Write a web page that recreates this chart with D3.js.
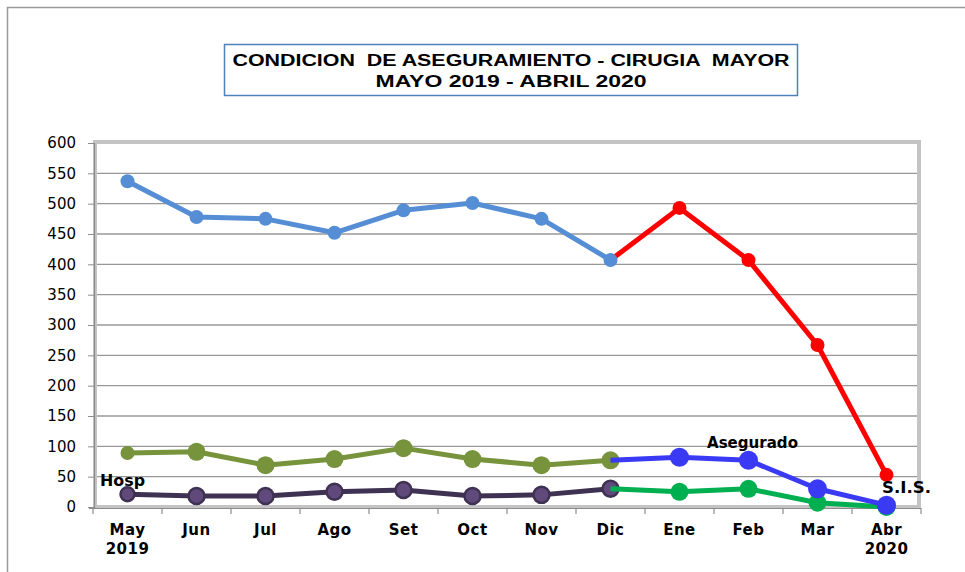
<!DOCTYPE html>
<html>
<head>
<meta charset="utf-8">
<script src="https://cdn.jsdelivr.net/npm/d3@7"></script>
<style>
  html, body { margin: 0; padding: 0; background: #fff; }
  svg { display: block; }
</style>
</head>
<body>
<svg id="chart" width="965" height="572"></svg>
<script>
// Month categories (two-line labels: month / year)
const months = ["May", "Jun", "Jul", "Ago", "Set", "Oct", "Nov", "Dic", "Ene", "Feb", "Mar", "Abr"];
const monthYears = ["2019", "", "", "", "", "", "", "", "", "", "", "2020"];
const yTicks = [0, 50, 100, 150, 200, 250, 300, 350, 400, 450, 500, 550, 600];

// S.I.S. patients: May–Dic and Dic–Abr
const sisFirst  = [537, 478, 475, 452, 489, 501, 475, 407, null, null, null, null];
const sisSecond = [null, null, null, null, null, null, null, 407, 493, 407, 267, 53];
// Insured (Asegurado)
const asegFirst  = [89, 91, 69, 79, 97, 79, 69, 77, null, null, null, null];
const asegSecond = [null, null, null, null, null, null, null, 77, 82, 77, 30, 3];
// Hospital (Hosp)
const hospFirst  = [21, 18, 18, 25, 28, 18, 20, 30, null, null, null, null];
const hospSecond = [null, null, null, null, null, null, null, 30, 25, 30, 7, 0];

const titleLines = ["CONDICION  DE ASEGURAMIENTO - CIRUGIA  MAYOR", "MAYO 2019 - ABRIL 2020"];

const svg = d3.select("#chart");

// outer chart frame
svg.append("rect")
  .attr("x", 7.5).attr("y", 7.5).attr("width", 1000).attr("height", 600)
  .attr("fill", "none").attr("stroke", "#9a9a9a").attr("stroke-width", 1.5);

const plot = { left: 95, right: 919, top: 143, bottom: 507 };

const x = d3.scaleBand().domain(months).range([93, 921]);
const y = d3.scaleLinear().domain([0, 600]).range([plot.bottom, plot.top]);
const cx = m => x(m) + x.bandwidth() / 2;

// grid lines
svg.append("g")
  .selectAll("line")
  .data(yTicks.filter(v => v > 0 && v < 600))
  .join("line")
  .attr("x1", plot.left).attr("x2", plot.right)
  .attr("y1", d => y(d)).attr("y2", d => y(d))
  .attr("stroke", "#989898").attr("stroke-width", 1.3);

// plot-area border
svg.append("rect")
  .attr("x", plot.left).attr("y", plot.top - 1)
  .attr("width", plot.right - plot.left).attr("height", plot.bottom - plot.top + 1)
  .attr("fill", "none").attr("stroke", "#c4c4c4").attr("stroke-width", 4);

// y axis
const yAxis = d3.axisLeft(y).tickValues(yTicks).tickSize(6).tickPadding(12);
const gy = svg.append("g").attr("transform", `translate(${plot.left - 1},0)`).call(yAxis);
gy.select(".domain").attr("stroke", "#8c8c8c").attr("stroke-width", 1.2);
gy.selectAll(".tick line").attr("stroke", "#8c8c8c");
gy.selectAll("text")
  .attr("font-family", "DejaVu Sans, Verdana, sans-serif")
  .attr("font-size", 15).attr("fill", "#000");

// x axis: tick marks at category boundaries
const bounds = months.map(m => x(m)).concat([x.range()[1]]);
svg.append("g").selectAll("line").data(bounds).join("line")
  .attr("x1", d => d).attr("x2", d => d)
  .attr("y1", plot.bottom + 1).attr("y2", plot.bottom + 7)
  .attr("stroke", "#8c8c8c").attr("stroke-width", 1.2);
svg.append("line")
  .attr("x1", plot.left - 6).attr("x2", plot.right + 2)
  .attr("y1", plot.bottom + 1.5).attr("y2", plot.bottom + 1.5)
  .attr("stroke", "#8c8c8c").attr("stroke-width", 1.2);

const xl = svg.append("g").selectAll("text").data(months).join("text")
  .attr("x", d => cx(d)).attr("y", 535)
  .attr("text-anchor", "middle")
  .attr("font-family", "DejaVu Sans, Verdana, sans-serif")
  .attr("font-weight", "bold").attr("font-size", 15).attr("fill", "#000")
  .attr("letter-spacing", 0.5);
xl.append("tspan").attr("x", d => cx(d)).text(d => d);
xl.append("tspan").attr("x", d => cx(d)).attr("dy", 19)
  .text((d, i) => monthYears[i]);

// series drawing
function drawSeries(values, opt) {
  const pts = values.map((v, i) => ({ m: months[i], v })).filter(p => p.v !== null);
  const line = d3.line().x(p => cx(p.m)).y(p => y(p.v));
  const g = svg.append("g");
  g.append("path").datum(pts).attr("d", line)
    .attr("fill", "none").attr("stroke", opt.color)
    .attr("stroke-width", opt.width).attr("stroke-linejoin", "round");
  const markers = pts.filter((p, i) => !(opt.skipFirst && i === 0));
  g.selectAll("circle").data(markers).join("circle")
    .attr("cx", p => cx(p.m)).attr("cy", p => y(p.v))
    .attr("r", (p, i) => (opt.firstR && i === 0) ? opt.firstR : opt.r)
    .attr("fill", opt.fill || opt.color)
    .attr("stroke", opt.stroke || "none")
    .attr("stroke-width", opt.strokeWidth || 0);
}

drawSeries(sisSecond, { color: "#ff0000", width: 5, r: 7, skipFirst: true });
drawSeries(sisFirst,  { color: "#558ed5", width: 5, r: 7 });
drawSeries(hospFirst, { color: "#3f3151", width: 5, r: 8, firstR: 7, fill: "#604a7b",
                        stroke: "#3f3151", strokeWidth: 2.5 });
drawSeries(hospSecond, { color: "#00b050", width: 5, r: 9, skipFirst: true });
drawSeries(asegFirst, { color: "#77933c", width: 5, r: 9, firstR: 7 });
drawSeries(asegSecond, { color: "#3a3af5", width: 5, r: 9.5, skipFirst: true });

// series labels
[
  { text: "Hosp", x: 100, y: 486, len: 45 },
  { text: "Asegurado", x: 707, y: 448, len: 91 },
  { text: "S.I.S.", x: 882, y: 493, len: 49 }
].forEach(l => {
  svg.append("text").attr("x", l.x).attr("y", l.y)
    .attr("font-family", "DejaVu Sans, Verdana, sans-serif").attr("font-size", 15)
    .attr("font-weight", "bold").attr("fill", "#000")
    .attr("textLength", l.len).attr("lengthAdjust", "spacingAndGlyphs")
    .text(l.text);
});

// title box
svg.append("rect")
  .attr("x", 224.5).attr("y", 44.5).attr("width", 573).attr("height", 51)
  .attr("fill", "#fff").attr("stroke", "#4f81bd").attr("stroke-width", 1.5);
const titleLens = [557, 271];
svg.append("g").selectAll("text").data(titleLines).join("text")
  .attr("x", 511).attr("y", (d, i) => 66 + i * 21)
  .attr("text-anchor", "middle")
  .attr("font-family", "Liberation Sans, Arial, sans-serif")
  .attr("font-weight", "bold").attr("font-size", 16)
  .attr("textLength", (d, i) => titleLens[i]).attr("lengthAdjust", "spacingAndGlyphs")
  .attr("fill", "#000").attr("xml:space", "preserve")
  .style("white-space", "pre")
  .text(d => d);
</script>
</body>
</html>
